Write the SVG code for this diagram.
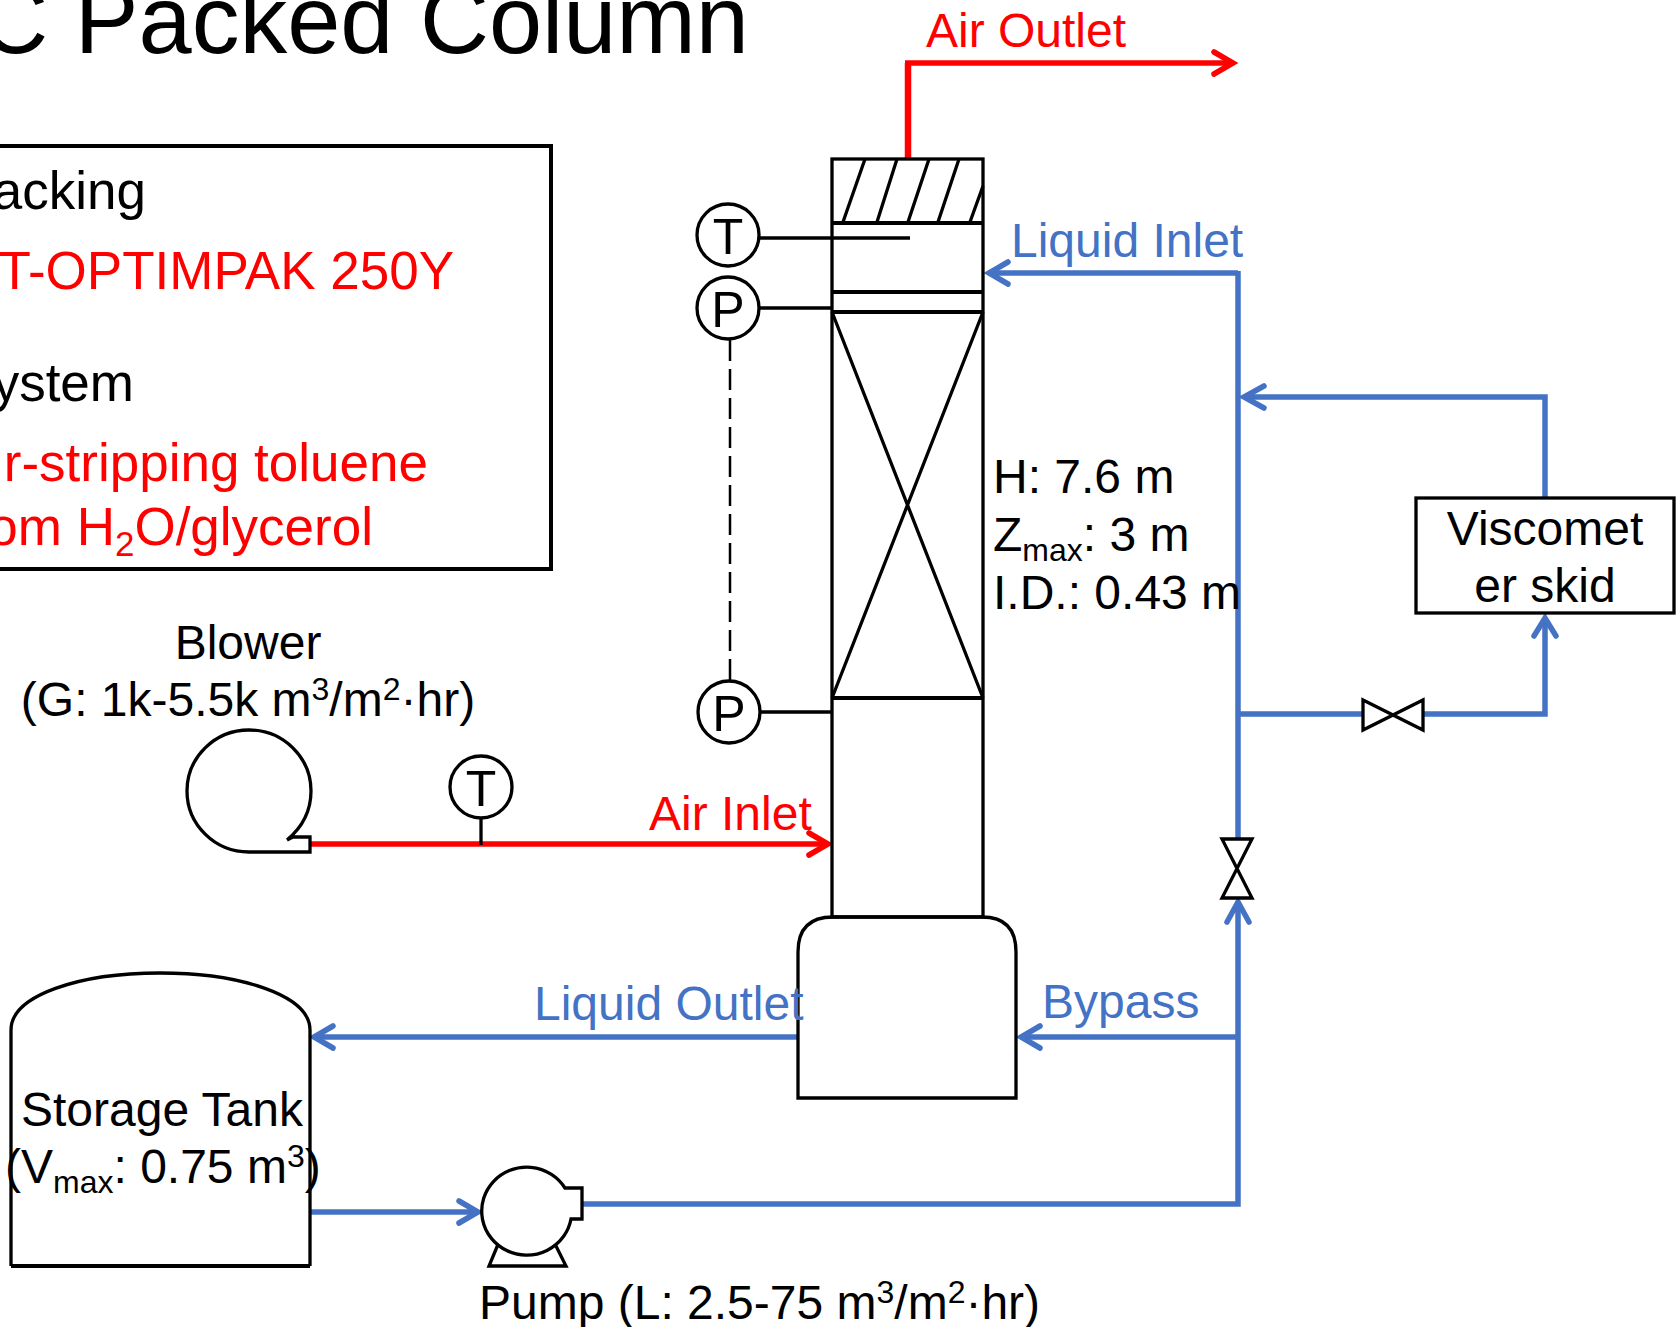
<svg xmlns="http://www.w3.org/2000/svg" width="1678" height="1327" viewBox="0 0 1678 1327">
<style>
text{font-family:"Liberation Sans",Arial,sans-serif;fill:#000}
.t{font-size:48px}.m{font-size:53px}.b{fill:#4472c4}.r{fill:#f00}
.s{fill:none;stroke:#000;stroke-width:3.3}.th{stroke-width:4}.w{fill:#fff;stroke:#000;stroke-width:3.3}
.bl{fill:none;stroke:#4472c4;stroke-width:5.5}.rd{fill:none;stroke:#f00;stroke-width:5.5}
.ah{fill:none;stroke-width:5.5;stroke-linecap:round;stroke-linejoin:miter}
.c{text-anchor:middle}.e{text-anchor:end}
</style>
<rect width="1678" height="1327" fill="#fff"/>
<g id="title"><text x="749" y="53" font-size="95.5" class="e">C Packed Column</text></g>
<g id="info-box">
<path class="s th" d="M-5 146H551V569H-5"/>
<text x="146" y="209" class="m e">acking</text>
<text x="454" y="289" class="m e r">T-OPTIMPAK 250Y</text>
<text x="134" y="401" class="m e">ystem</text>
<text x="428" y="481" class="m e r">r-stripping toluene</text>
<text x="373" y="545" class="m e r">om H<tspan font-size="35" dy="11">2</tspan><tspan dy="-11">O/glycerol</tspan></text>
</g>
<g id="connectors">
<path class="rd" d="M908 158V63" style="stroke-width:6.5"/>
<path class="rd" d="M905 63H1230"/>
<path class="ah" stroke="#f00" d="M1214 52L1233 63L1214 74"/>
<path class="rd" d="M310 844H824"/>
<path class="ah" stroke="#f00" d="M809 833L828 844L809 855"/>
<path class="bl" d="M1238 273H992"/>
<path class="ah" stroke="#4472c4" d="M1008 262L989 273L1008 284"/>
<path class="bl" d="M1238 271V840"/>
<path class="bl" d="M1545 498V397H1247"/>
<path class="ah" stroke="#4472c4" d="M1264 386L1244 397L1264 408"/>
<path class="bl" d="M1238 714H1363M1423 714H1545V622"/>
<path class="ah" stroke="#4472c4" d="M1534 636L1545 618L1556 636"/>
<path class="bl" d="M582 1204H1238V905"/>
<path class="ah" stroke="#4472c4" d="M1227 922L1238 902L1249 922"/>
<path class="bl" d="M1238 1037H1024"/>
<path class="ah" stroke="#4472c4" d="M1040 1026L1021 1037L1040 1048"/>
<path class="bl" d="M798 1037H318"/>
<path class="ah" stroke="#4472c4" d="M333 1026L314 1037L333 1048"/>
<path class="bl" d="M310 1212H474"/>
<path class="ah" stroke="#4472c4" d="M459 1201L478 1212L459 1223"/>
</g>
<g id="column">
<rect class="s" x="832" y="159" width="151" height="758"/>
<path class="s" d="M865 159L843 222M897 159L877 222M929 159L908 222M959 159L938 222M983 186L970 222"/>
<path class="s th" d="M832 223H983M832 292H983M832 312H983M832 698H983"/>
<path class="s" d="M832 312L983 698M983 312L832 698"/>
<path class="s" d="M760 238H910"/>
<path class="s" d="M760 308H832M761 712H832"/>
</g>
<g id="sump"><path class="s" d="M798 1098V952Q798 917 833 917H982Q1016 917 1016 952V1098Z"/></g>
<g id="sensor-t1"><circle class="w" cx="728" cy="235" r="31"/><text x="728" y="254" font-size="50" class="c">T</text></g>
<g id="sensor-p1"><circle class="w" cx="728" cy="308" r="31"/><text x="728" y="327" font-size="50" class="c">P</text></g>
<g id="sensor-p2"><circle class="w" cx="729" cy="712" r="31"/><text x="729" y="731" font-size="50" class="c">P</text></g>
<path class="s" stroke-dasharray="21 8" d="M730 340V682" style="stroke-width:2.5"/>
<g id="column-label">
<text x="993" y="493" class="t">H: 7.6 m</text>
<text x="993" y="551" class="t">Z<tspan font-size="32" dy="10">max</tspan><tspan dy="-10">: 3 m</tspan></text>
<text x="993" y="609" class="t">I.D.: 0.43 m</text>
</g>
<g id="flow-labels">
<text x="926" y="47" class="t r">Air Outlet</text>
<text x="1011" y="257" class="t b">Liquid Inlet</text>
<text x="649" y="830" class="t r">Air Inlet</text>
<text x="534" y="1020" class="t b">Liquid Outlet</text>
<text x="1042" y="1018" class="t b">Bypass</text>
</g>
<g id="viscometer">
<rect class="w" x="1416" y="498" width="258" height="115"/>
<text x="1545" y="545" class="t c">Viscomet</text>
<text x="1545" y="602" class="t c">er skid</text>
</g>
<g id="valve-h"><path class="w" d="M1363 700L1423 730V700L1363 730Z"/></g>
<g id="valve-v"><path class="w" d="M1222 839H1252L1222 898H1252Z"/></g>
<g id="blower">
<text x="248" y="659" class="t c">Blower</text>
<text x="248" y="716" class="t c">(G: 1k-5.5k m<tspan font-size="32" dy="-16">3</tspan><tspan dy="16">/m</tspan><tspan font-size="32" dy="-16">2</tspan><tspan dy="16">·hr)</tspan></text>
<path class="s" d="M287 840L293 837H310V852H249A62 61 0 1 1 311 791Q311 820 287 840"/>
</g>
<g id="sensor-t2"><circle class="w" cx="481" cy="787" r="31"/><text x="481" y="806" font-size="50" class="c">T</text><path class="s" d="M481 818V845"/></g>
<g id="tank">
<path class="s" d="M11 1266V1030C11 995 80 973 160 973C240 973 310 995 310 1030V1266"/>
<path class="s th" d="M11 1266H310"/>
<text x="162" y="1126" class="t c">Storage Tank</text>
<text x="5" y="1183" class="t">(V<tspan font-size="32" dy="10">max</tspan><tspan dy="-10">: 0.75 m</tspan><tspan font-size="32" dy="-16">3</tspan><tspan dy="16">)</tspan></text>
</g>
<g id="pump">
<path class="s" d="M499 1242L489 1266H566L554 1242"/>
<path class="w" d="M565 1188A45 44 0 1 0 571 1219H582V1188Z"/>
<text x="479" y="1319" class="t">Pump (L: 2.5-75 m<tspan font-size="32" dy="-16">3</tspan><tspan dy="16">/m</tspan><tspan font-size="32" dy="-16">2</tspan><tspan dy="16">·hr)</tspan></text>
</g>
</svg>
